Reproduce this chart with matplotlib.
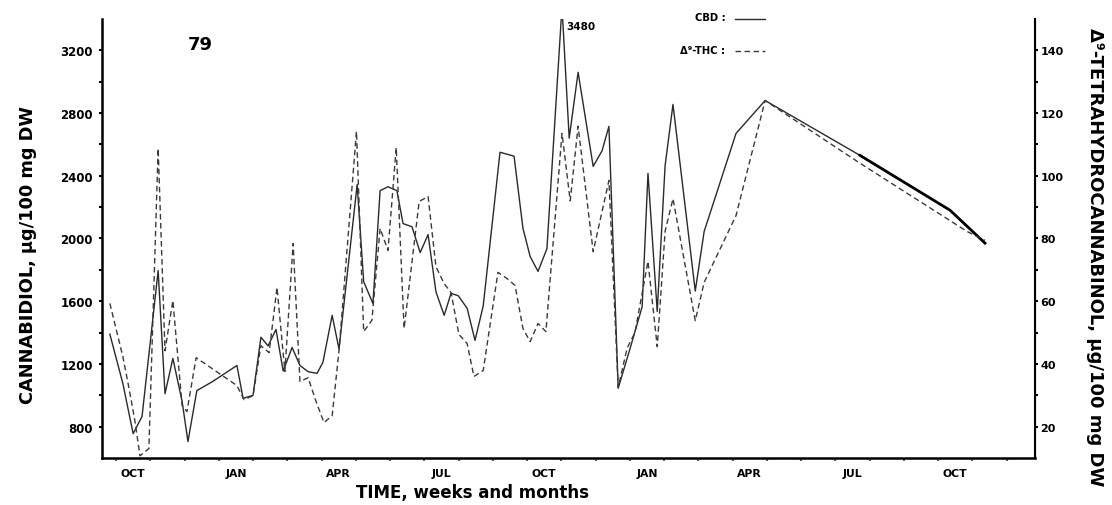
import numpy as np
import matplotlib
matplotlib.use('Agg')
import matplotlib.pyplot as plt

plt.rcParams['font.family'] = ['DejaVu Sans']
plt.rcParams['font.weight'] = 'bold'

# time in months counted from 1 October of the first year
cbd_t = [-0.18, 0.20, 0.50, 0.76, 0.99, 1.23, 1.43, 1.66, 1.93, 2.10, 2.36, 2.80,
         3.53, 3.71, 4.00, 4.23, 4.44, 4.67, 4.88, 5.14, 5.37, 5.61, 5.87, 6.04,
         6.31, 6.51, 7.04, 7.23, 7.50, 7.71, 7.94, 8.20, 8.38, 8.64, 8.88, 9.11,
         9.34, 9.58, 9.78, 9.99, 10.25, 10.48, 10.72, 11.21, 11.62, 11.88, 12.09,
         12.32, 12.58, 13.02, 13.23, 13.49, 13.93, 14.19, 14.39, 14.66, 15.01,
         15.36, 15.53, 15.80, 16.03, 16.26, 16.91, 17.17, 18.10, 18.95, 21.72,
         24.35, 25.37]
cbd = [1390, 1075, 755, 865, 1320, 1795, 1010, 1235, 960, 705, 1030, 1085,
       1190, 980, 1000, 1370, 1315, 1420, 1155, 1305, 1190, 1150, 1140, 1210,
       1510, 1295, 2345, 1725, 1585, 2305, 2330, 2305, 2095, 2075, 1910, 2025,
       1660, 1510, 1650, 1635, 1555, 1350, 1570, 2550, 2525, 2065, 1885,
       1790, 1935, 3480, 2640, 3060, 2460, 2560, 2715, 1045, 1300,
       1565, 2415, 1535, 2465, 2855, 1665, 2045, 2670, 2880, 2530,
       2180, 1970]

thc_t = [-0.18, 0.20, 0.38, 0.55, 0.70, 0.96, 1.23, 1.43, 1.66, 1.93, 2.07, 2.34,
         2.74, 3.53, 3.74, 4.00, 4.23, 4.47, 4.70, 4.93, 5.17, 5.37, 5.61, 5.84,
         6.07, 6.31, 6.51, 7.02, 7.23, 7.47, 7.71, 7.94, 8.18, 8.41, 8.85, 9.11,
         9.34, 9.58, 9.78, 10.01, 10.25, 10.45, 10.72, 11.15, 11.42, 11.65, 11.88,
         12.09, 12.32, 12.55, 13.02, 13.26, 13.49, 13.93, 14.39, 14.66, 14.92,
         15.15, 15.53, 15.80, 16.03, 16.26, 16.91, 17.17, 18.10, 18.95, 21.72,
         24.85, 25.37]
thc = [59.3, 42.3, 32.2, 21.9, 10.7, 13.0, 108.7, 44.2, 60.2, 26.7, 24.8, 42.0,
       39.0, 33.1, 28.6, 29.9, 45.8, 43.6, 64.4, 37.6, 78.4, 34.4, 35.6, 28.0,
       21.3, 23.5, 44.2, 114.2, 50.3, 53.9, 83.2, 76.2, 109.0, 51.3, 91.8, 93.4,
       71.0, 65.6, 62.8, 49.4, 46.5, 36.0, 37.9, 69.2, 67.2, 65.0, 51.3,
       47.1, 52.9, 50.3, 113.5, 92.0, 115.8, 75.8, 98.5, 32.5, 45.0,
       50.0, 72.7, 45.5, 82.3, 92.7, 53.8, 66.0, 87.3, 124.0, 104.0,
       82.2, 79.4]

month_labels = ['OCT', 'JAN', 'APR', 'JUL', 'OCT', 'JAN', 'APR', 'JUL', 'OCT']
cbd_ticks = [800, 1200, 1600, 2000, 2400, 2800, 3200]
thc_ticks = [20, 40, 60, 80, 100, 120, 140]

fig = plt.figure(figsize=(11.12, 5.06), dpi=100)
ax = fig.add_axes([0.0917, 0.0929, 0.8391, 0.8676])
ax2 = ax.twinx()

ax.plot(cbd_t, cbd, '-', color='#2a2a2a', lw=1.0)
ax.plot(cbd_t[-3:], cbd[-3:], '-', color='black', lw=2.0)
ax2.plot(thc_t, thc, '--', color='#3a3a3a', lw=1.0, dashes=(4, 2.5))

ax.set_xlim(-0.41, 26.83)
ax.set_ylim(600, 3400)
ax2.set_ylim(10, 150)

for a in (ax, ax2):
    a.spines['top'].set_visible(False)
ax.spines['left'].set_linewidth(1.8)
ax.spines['bottom'].set_linewidth(1.8)
ax2.spines['right'].set_linewidth(1.5)
ax2.spines['left'].set_visible(False)
ax2.spines['bottom'].set_visible(False)

ax.set_yticks(cbd_ticks)
ax.set_yticks(np.arange(1000, 3400, 400), minor=True)
ax.tick_params(axis='y', which='major', direction='out', length=2.5, width=1.5,
               labelsize=8.5, pad=4)
ax.tick_params(axis='y', which='minor', direction='out', length=2.5, width=1.5)
ax2.set_yticks(thc_ticks)
ax2.set_yticks(np.arange(30, 150, 20), minor=True)
ax2.tick_params(axis='y', which='major', direction='out', length=2.5, width=1.5,
                labelsize=8, pad=1.5)
ax2.tick_params(axis='y', which='minor', direction='out', length=2.5, width=1.5)

ax.set_xticks(np.arange(0, 27))
ax.set_xticklabels([])
ax.set_xticks(np.arange(0.5, 27, 3), minor=True)
ax.set_xticklabels(month_labels, minor=True)
ax.tick_params(axis='x', which='major', direction='out', length=2.5, width=1.5,
               color='#666666')
ax.tick_params(axis='x', which='minor', length=0, labelsize=7.8, pad=7)

ax.set_ylabel('CANNABIDIOL, µg/100 mg DW', fontsize=12.8, fontweight='bold',
              va='center')
ax.yaxis.set_label_coords(-0.079, 0.465)
ax2.set_ylabel('Δ⁹-TETRAHYDROCANNABINOL, µg/100 mg DW', fontsize=13,
               fontweight='bold', rotation=-90, va='center')
ax2.yaxis.set_label_coords(1.0645, 0.46)
fig.text(472 / 1112, 1 - 493 / 506, 'TIME, weeks and months', fontsize=12,
         fontweight='bold', ha='center', va='center')

ax.text(2.45, 3238, '79', fontsize=13, fontweight='bold', ha='center', va='center')
ax.text(13.14, 3355, '3480', fontsize=7.5, fontweight='bold', ha='left', va='center')

# legend
ax.text(0.668, 1.004, 'CBD :', transform=ax.transAxes, fontsize=7.2,
        fontweight='bold', ha='right', va='center')
ax.plot([0.678, 0.711], [1.0, 1.0], '-', color='#2a2a2a', lw=1.0,
        transform=ax.transAxes, clip_on=False)
ax.text(0.668, 0.929, 'Δ⁹-THC :', transform=ax.transAxes, fontsize=7.2,
        fontweight='bold', ha='right', va='center')
ax.plot([0.678, 0.711], [0.927, 0.927], '--', color='#3a3a3a', lw=1.0,
        dashes=(4, 2.5), transform=ax.transAxes, clip_on=False)

fig.savefig('out.png', dpi=100)
